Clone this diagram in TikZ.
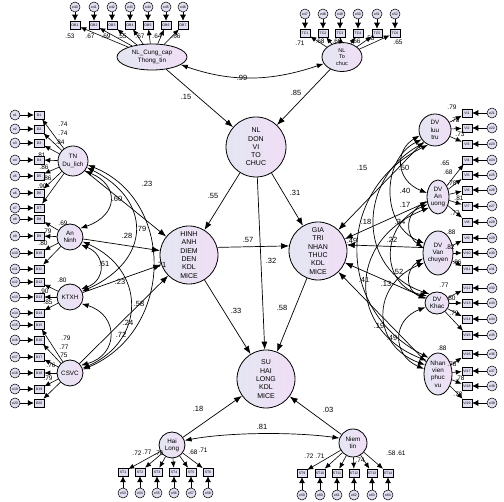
\documentclass[tikz,border=0pt]{standalone}
\usepackage{fontspec}
\setmainfont{Liberation Sans}
\usetikzlibrary{arrows.meta,shapes.geometric}
\definecolor{latA}{RGB}{228,230,242}
\definecolor{latB}{RGB}{240,222,246}
\definecolor{boxF}{RGB}{226,222,242}
\begin{document}
\begin{tikzpicture}[x=1pt,y=-1pt,
 lat/.style={circle,draw,line width=0.8pt,inner sep=0pt,align=center,left color=latA,right color=latB,font=\fontsize{7}{8.3}\selectfont},
 latE/.style={ellipse,draw,line width=0.8pt,inner sep=0pt,align=center,left color=latA,right color=latB,font=\fontsize{6.3}{7.2}\selectfont},
 latS/.style={lat,font=\fontsize{6.3}{7.2}\selectfont},
 obs/.style={rectangle,draw,line width=0.5pt,fill=boxF,minimum width=10pt,minimum height=8pt,inner sep=0pt,font=\fontsize{3.5}{4}\selectfont},
 err/.style={circle,draw,line width=0.5pt,fill=boxF,minimum size=10pt,inner sep=0pt,font=\fontsize{3.5}{4}\selectfont},
 errarr/.style={-{Latex[length=6pt,width=6pt]},line width=0.6pt},
 ldarr/.style={-{Latex[length=6pt,width=5pt]},line width=0.6pt},
 reg/.style={-{Latex[length=8pt,width=6pt]},line width=0.7pt},
 cov/.style={{Latex[length=7pt,width=5pt]}-{Latex[length=7pt,width=5pt]},line width=0.7pt},
 coef/.style={font=\fontsize{7.5}{8}\selectfont,inner sep=0pt},
 ld/.style={font=\fontsize{6.5}{7}\selectfont,inner sep=0pt}
]
\fill[white] (0,0) rectangle (504,502);
\useasboundingbox (0,0) rectangle (504,502);

% latent variables
\node[latE,minimum width=70pt,minimum height=26pt] (nlcc) at (152,57) {NL\_Cung\_cap\\Thong\_tin};
\node[latE,minimum width=40pt,minimum height=29pt,font=\fontsize{5.5}{6.5}\selectfont] (nltc) at (342,57) {NL\\To\\chuc};
\node[lat,minimum size=60pt] (nldv) at (256,147) {NL\\DON\\VI\\TO\\CHUC};
\node[lat,minimum size=58pt] (ha) at (189,255) {HINH\\ANH\\DIEM\\DEN\\KDL\\MICE};
\node[lat,minimum size=58pt] (gt) at (318,251) {GIA\\TRI\\NHAN\\THUC\\KDL\\MICE};
\node[lat,minimum size=58pt] (shl) at (266,379) {SU\\HAI\\LONG\\KDL\\MICE};
\node[latS,minimum size=30pt] (tn) at (73,161) {TN\\Du\_lich};
\node[latS,minimum size=26pt] (an) at (70,237) {An\\Ninh};
\node[latS,minimum size=26pt] (kt) at (70,297) {KTXH};
\node[latS,minimum size=26pt] (cs) at (70,373) {CSVC};
\node[latS,minimum size=32pt] (lt) at (435,130) {DV\\luu\\tru};
\node[latE,minimum width=22pt,minimum height=34pt] (au) at (438,197) {DV\\An\\uong};
\node[latE,minimum width=30pt,minimum height=44pt] (vc) at (438,253) {DV\\Van\\chuyen};
\node[latE,minimum width=24pt,minimum height=22pt] (dk) at (437,303) {DV\\Khac};
\node[latE,minimum width=28pt,minimum height=42pt] (nv) at (438,374) {Nhan\\vien\\phuc\\vu};
\node[latS,minimum size=26pt] (hl) at (172,445) {Hai\\Long};
\node[latS,minimum size=28pt] (nt) at (353,443) {Niem\\tin};

% left indicators
\foreach \i/\y/\lat in {1/115/tn,2/129/tn,3/143/tn,4/160/tn,5/176/tn,6/193/tn,7/208/tn,
  8/219/an,9/236/an,10/253/an,11/269/an,12/282/kt,13/297/kt,14/313/kt,
  15/325/cs,16/340/cs,17/357/cs,18/373/cs,19/389/cs,20/403/cs}{
  \node[err] (e\i) at (15,\y) {e\i};
  \node[obs] (d\i) at (39,\y) {D\i};
  \draw[errarr] (e\i) -- (d\i);
  \draw[ldarr] (\lat) -- (d\i);
}
% right indicators
\foreach \i/\y/\lat/\k in {21/113/lt/1,22/128/lt/2,23/144/lt/3,24/160/au/4,25/175/au/5,26/190/au/6,27/206/au/7,28/222/au/8,
  29/238/vc/9,30/253/vc/10,31/269/vc/11,32/288/dk/12,33/303/dk/13,34/319/dk/14,35/335/dk/15,
  36/354/nv/16,37/371/nv/17,38/386/nv/18,39/403/nv/19}{
  \node[err] (e\i) at (492,\y) {e\i};
  \node[obs] (v\i) at (467,\y) {VI\k};
  \draw[errarr] (e\i) -- (v\i);
  \draw[ldarr] (\lat) -- (v\i);
}
% top indicators
\foreach \i/\x/\k in {40/75/1,41/94/2,42/112/3,43/130/4,44/148/5,45/166/6,46/183/7}{
  \node[err] (e\i) at (\x,7) {e\i};
  \node[obs] (o\i) at (\x,25) {OB\k};
  \draw[errarr] (e\i) -- (o\i);
  \draw[ldarr] (nlcc) -- (o\i);
}
\foreach \i/\x/\k in {47/305/1,48/323/2,49/340/3,50/358/4,51/377/5,52/395/6}{
  \node[err] (e\i) at (\x,14) {e\i};
  \node[obs] (o\i) at (\x,33) {TC\k};
  \draw[errarr] (e\i) -- (o\i);
  \draw[ldarr] (nltc) -- (o\i);
}
% bottom indicators
\foreach \i/\x/\k in {53/123/1,54/140/2,55/157/3,56/174/4,57/191/5,58/208/6}{
  \node[err] (e\i) at (\x,493) {e\i};
  \node[obs] (s\i) at (\x,472) {ST\k};
  \draw[errarr] (e\i) -- (s\i);
  \draw[ldarr] (hl) -- (s\i);
}
\foreach \i/\x/\k in {59/302/9,60/320/10,61/337/11,62/354/12,63/372/13,64/388/14}{
  \node[err] (e\i) at (\x,495) {e\i};
  \node[obs] (s\i) at (\x,473) {ST\k};
  \draw[errarr] (e\i) -- (s\i);
  \draw[ldarr] (nt) -- (s\i);
}

% structural paths
\draw[reg] (nlcc) -- (nldv);
\draw[reg] (nltc) -- (nldv);
\draw[reg] (nldv) -- (ha);
\draw[reg] (nldv) -- (gt);
\draw[reg] (nldv) -- (shl);
\draw[reg] (ha.15) -- (gt.170);
\draw[reg] (ha) -- (shl);
\draw[reg] (gt) -- (shl);
\draw[reg] (hl) -- (shl);
\draw[reg] (nt) -- (shl);
\draw[reg] (tn) -- (ha);
\draw[reg] (an) -- (ha);
\draw[reg] (kt) -- (ha);
\draw[reg] (cs) -- (ha);
\draw[reg] (lt) -- (gt);
\draw[reg] (au) -- (gt);
\draw[reg] (vc.160) -- (gt.12);
\draw[reg] (dk) -- (gt);
\draw[reg] (nv) -- (gt);

% covariances
\draw[cov] (nlcc.-15) .. controls (230,82) and (270,82) .. (nltc.200);
\draw[cov] (hl.20) .. controls (230,432) and (295,432) .. (nt.160);
\draw[cov] (tn.-40) .. controls (119,185) and (119,215) .. (an.40);
\draw[cov] (tn.-25) .. controls (152,200) and (152,260) .. (kt.25);
\draw[cov] (tn.-15) .. controls (175,200) and (175,330) .. (cs.15);
\draw[cov] (an.-35) .. controls (106,255) and (106,280) .. (kt.35);
\draw[cov] (an.-20) .. controls (146,270) and (146,340) .. (cs.20);
\draw[cov] (kt.-30) .. controls (119,315) and (119,355) .. (cs.35);
\draw[cov] (lt.200) .. controls (395,150) and (395,180) .. (au.160);
\draw[cov] (au.200) .. controls (405,215) and (405,235) .. (vc.160);
\draw[cov] (vc.200) .. controls (405,270) and (405,290) .. (dk.160);
\draw[cov] (dk.200) .. controls (392,320) and (392,355) .. (nv.160);
\draw[cov] (lt.215) .. controls (381,160) and (381,225) .. (vc.145);
\draw[cov] (au.215) .. controls (380,225) and (380,285) .. (dk.145);
\draw[cov] (vc.215) .. controls (371,285) and (371,345) .. (nv.145);
\draw[cov] (lt.230) .. controls (357,180) and (357,270) .. (dk.130);
\draw[cov] (au.230) .. controls (347,240) and (347,330) .. (nv.130);
\draw[cov] (lt.245) .. controls (335,190) and (335,310) .. (nv.120);

% coefficients
\foreach \x/\y/\t [count=\n] in {242/78/.99,186/97/.15,296/93/.85,213/196/.55,295/193/.31,271/261/.32,
  248/240/.57,236/311/.33,282/308/.58,198/409/.18,328/410/.03,262/427/.81,
  147/184/.23,117/199/.60,141/229/.79,127/236/.28,104/264/.61,161/265/.71,120/282/.23,139/304/.58,128/323/.24,121/335/.72,
  362/168/.15,404/168/.50,405/191/.40,405/205/.17,400/222/.34,366/222/.18,392/240/.22,352/241/.49,
  398/272/.52,364/280/.41,386/284/.13,379/326/.19,392/338/.49}{
  \node[coef] (c\n) at (\x,\y) {\t};
}
% loadings
\foreach \x/\y/\t [count=\n] in {70/36/.53,90/36/.67,106/36/.69,122/36/.55,140/36/.67,157/36/.64,176/36/.66,
  300/43/.71,320/41/.68,337/41/.66,356/41/.66,370/38/.58,398/42/.65,
  63/124/.74,63/133/.74,60/142/.84,41/155/.81,44/167/.86,47/178/.86,42/186/.90,
  63/223/.69,47/231/.79,43/243/.80,62/280/.80,44/291/.90,48/302/.85,
  66/338/.79,64/347/.77,63/355/.75,51/365/.76,48/378/.79,
  452/107/.79,455/120/.78,460/134/.73,445/163/.65,448/172/.68,452/183/.78,459/198/.81,455/213/.77,
  451/232/.88,450/247/.82,457/262/.86,444/285/.77,451/298/.80,454/313/.79,
  442/348/.88,452/364/.78,460/378/.78,458/394/.78,
  137/453/.72,147/452/.77,159/453/.76,193/452/.68,203/450/.71,
  309/456/.72,320/456/.71,360/460/.74,391/453/.58,401/453/.61}{
  \node[ld] (l\n) at (\x,\y) {\t};
}
\end{tikzpicture}
\end{document}
